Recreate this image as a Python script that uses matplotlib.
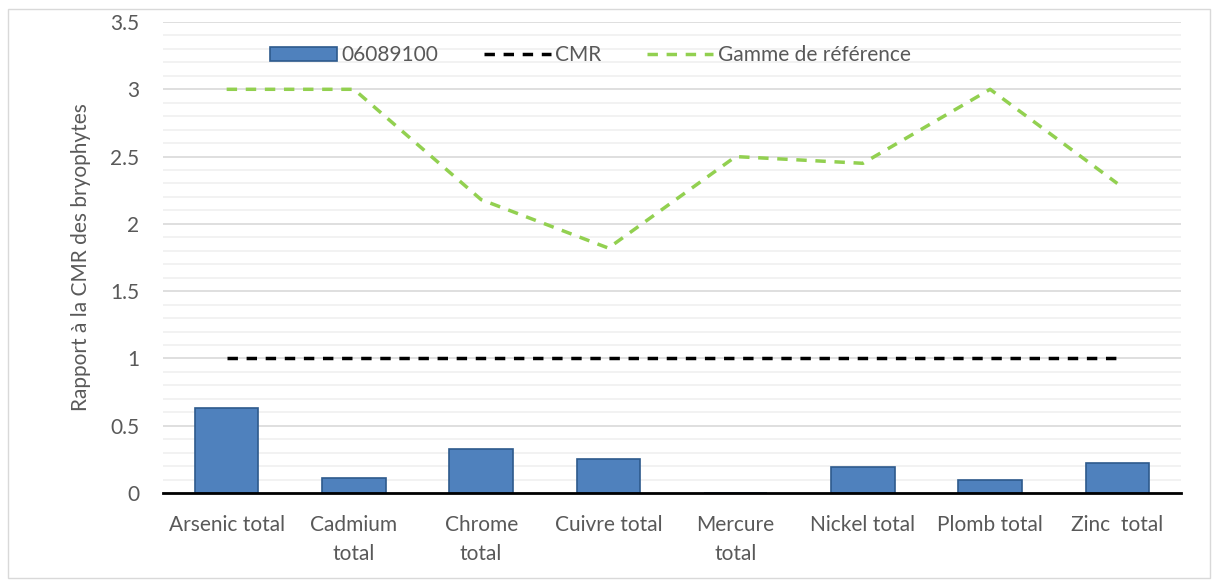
import numpy as np
import matplotlib
matplotlib.use("Agg")
import matplotlib.pyplot as plt
from matplotlib.patches import Rectangle

categories = ["Arsenic total", "Cadmium\ntotal", "Chrome\ntotal", "Cuivre total",
              "Mercure\ntotal", "Nickel total", "Plomb total", "Zinc  total"]
station = [0.63, 0.11, 0.33, 0.25, 0.0, 0.19, 0.10, 0.22]
cmr = [1, 1, 1, 1, 1, 1, 1, 1]
gamme = [3.0, 3.0, 2.18, 1.82, 2.5, 2.45, 3.0, 2.3]

plt.rcParams['font.family'] = ['Lato', 'DejaVu Sans']
text_color = '#595959'
fs = 15

fig = plt.figure(figsize=(12.14, 5.81), dpi=100)
ax = fig.add_axes([0.1343, 0.1515, 0.8385, 0.8106])

x = np.arange(len(categories))
bars = ax.bar(x, station, width=0.5, color='#4F81BD', edgecolor='#2E5A8C',
              linewidth=1.2, label='06089100', zorder=3)
ax.plot(x, cmr, color='black', linestyle=(0, (3, 2.5)), linewidth=2.5,
        label='CMR', zorder=4)
ax.plot(x, gamme, color='#92D050', linestyle=(0, (3, 2.5)), linewidth=2.5,
        label='Gamme de référence', zorder=4)

ax.set_xlim(-0.5, len(categories) - 0.5)
ax.set_ylim(0, 3.5)
ax.set_yticks(np.arange(0, 3.51, 0.5))
ax.set_yticklabels(['0', '0.5', '1', '1.5', '2', '2.5', '3', '3.5'])
ax.set_yticks(np.arange(0, 3.51, 0.1), minor=True)
ax.grid(axis='y', which='major', color='#D9D9D9', linewidth=1.2, zorder=0)
ax.grid(axis='y', which='minor', color='#F0F0F0', linewidth=1.2, zorder=0)
ax.set_xticks(x)
ax.set_xticklabels(categories, fontsize=fs, color=text_color, linespacing=1.55)
ax.tick_params(axis='x', length=0, pad=16)
ax.tick_params(axis='y', which='both', length=0, labelsize=fs,
               labelcolor=text_color, pad=17)
for side in ['top', 'right', 'left']:
    ax.spines[side].set_visible(False)
ax.spines['bottom'].set_linewidth(2)
ax.spines['bottom'].set_color('black')
ax.spines['bottom'].set_zorder(5)

ax.set_ylabel('Rapport à la CMR des bryophytes', fontsize=fs, color=text_color,
              labelpad=14)

handles, labels = ax.get_legend_handles_labels()
order = [2, 0, 1]
leg = ax.legend([handles[i] for i in order], [labels[i] for i in order],
                loc='upper left', bbox_to_anchor=(0.087, 0.99), ncol=3,
                frameon=False, fontsize=fs, handlelength=3.2,
                columnspacing=2.2, handletextpad=0.2)
for t in leg.get_texts():
    t.set_color(text_color)

fig.patches.append(Rectangle((0.007, 0.005), 0.99, 0.98, transform=fig.transFigure,
                             fill=False, edgecolor='#D9D9D9', linewidth=1))

fig.savefig('out.png', dpi=100)
